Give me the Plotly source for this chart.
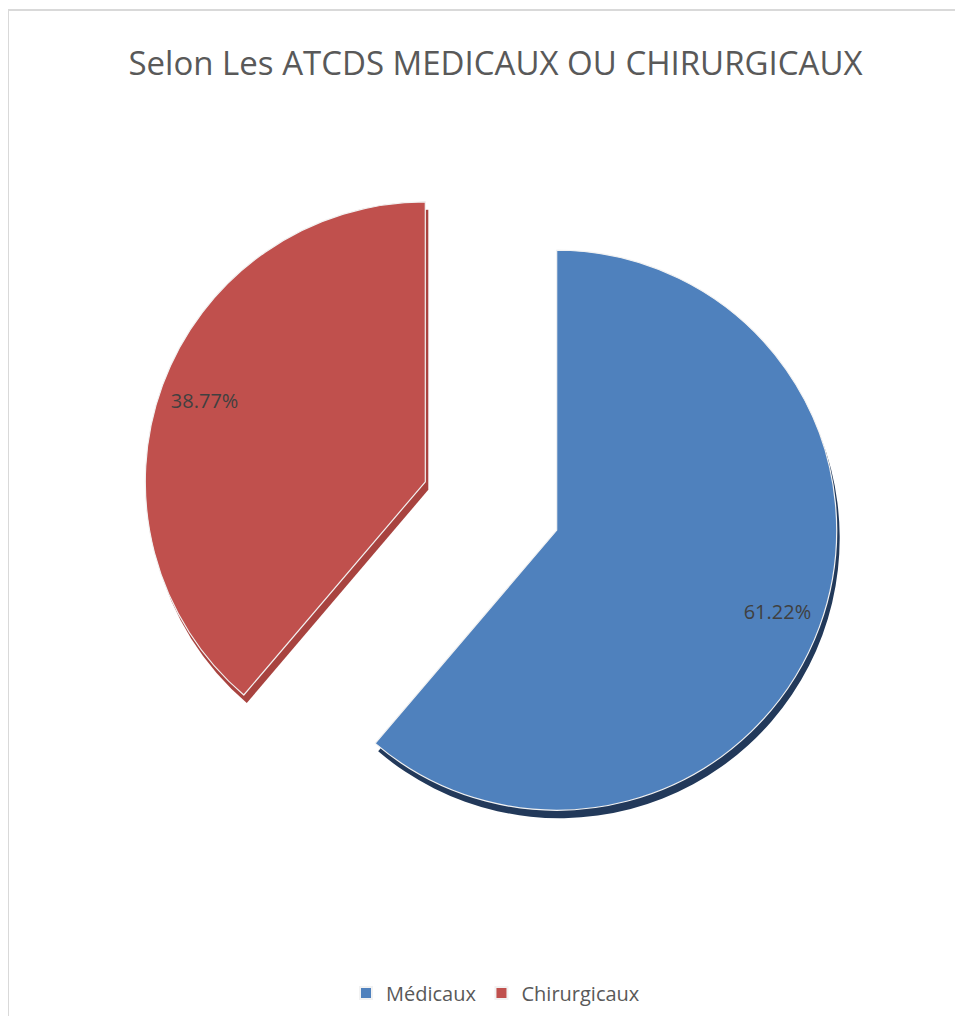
import plotly.graph_objects as go

labels = ["Médicaux", "Chirurgicaux"]
values = [61.22, 38.77]
text_labels = ["61.22%", "38.77%"]
colors = ["#4F81BD", "#C0504D"]
side_colors = ["#22395A", "#A8433F"]

OFF = 8                      # page body margin
W, H = 963 - OFF, 1016 - OFF
cx, cy = 491 - OFF, 506 - OFF    # pie centre in px (from top-left of figure)
r = 280
pull = 0.25
half = r * (1 + pull)


def domain(dx=0, dy=0):
    return dict(x=[(cx + dx - half) / W, (cx + dx + half) / W],
                y=[(H - cy - dy - half) / H, (H - cy - dy + half) / H])


common = dict(labels=labels, values=values, sort=False, direction="clockwise",
              rotation=0, pull=[pull, pull])

fig = go.Figure()
# darker copy slightly below: gives the 3-D edge of the slices
fig.add_trace(go.Pie(
    **common,
    textinfo="none",
    marker=dict(colors=side_colors, line=dict(width=0)),
    domain=domain(3, 8),
    showlegend=False,
    hoverinfo="skip",
))
fig.add_trace(go.Pie(
    **common,
    textinfo="none",
    marker=dict(colors=colors, line=dict(color="#F2F2F2", width=1.2)),
    domain=domain(),
    hoverinfo="label+percent",
))
# transparent ring carrying the percentage labels near the outer edge
fig.add_trace(go.Pie(
    **common,
    text=text_labels,
    textinfo="text",
    textposition="inside",
    insidetextorientation="horizontal",
    textfont=dict(family="Open Sans", size=20, color="#404040"),
    hole=0.68,
    marker=dict(colors=["rgba(0,0,0,0)", "rgba(0,0,0,0)"], line=dict(width=0)),
    domain=domain(),
    showlegend=False,
    hoverinfo="skip",
))

fig.update_layout(
    width=W, height=H,
    margin=dict(l=0, r=0, t=0, b=0),
    paper_bgcolor="white",
    title=dict(text="Selon Les ATCDS MEDICAUX OU CHIRURGICAUX",
               x=(495.5 - OFF) / W, xanchor="center",
               y=(H - (63 - OFF)) / H, yanchor="middle",
               font=dict(family="Open Sans", size=33, color="#595959")),
    legend=dict(orientation="h", x=(495.5 - OFF) / W, xanchor="center",
                y=(H - (993 - OFF)) / H, yanchor="middle",
                font=dict(family="Open Sans", size=20, color="#595959"),
                itemsizing="constant"),
    shapes=[
        dict(type="line", xref="paper", yref="paper",
             x0=0, x1=1, y0=(H - 2) / H, y1=(H - 2) / H,
             line=dict(color="#D9D9D9", width=2)),
        dict(type="line", xref="paper", yref="paper",
             x0=0, x1=0, y0=0, y1=(H - 2) / H,
             line=dict(color="#D9D9D9", width=2)),
    ],
)

fig.write_html("out.html")
